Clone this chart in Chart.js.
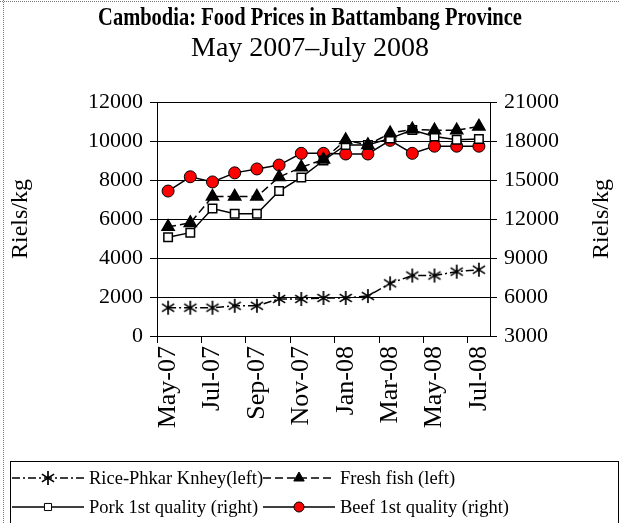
<!DOCTYPE html>
<html>
<head>
<meta charset="utf-8">
<script src="https://cdn.jsdelivr.net/npm/chart.js@4/dist/chart.umd.min.js"></script>
<style>
  html, body { margin: 0; padding: 0; background: #fff; }
  #wrap { width: 620px; height: 523px; position: relative; }
</style>
</head>
<body>
<div id="wrap"><canvas id="prices" width="620" height="523"></canvas></div>
<script>
/* Cambodia food prices, Battambang */

const months = ['May-07', 'Jun-07', 'Jul-07', 'Aug-07', 'Sep-07', 'Oct-07', 'Nov-07', 'Dec-07',
  'Jan-08', 'Feb-08', 'Mar-08', 'Apr-08', 'May-08', 'Jun-08', 'Jul-08']

// left axis
const rice = [1450, 1450, 1450, 1550, 1550, 1900, 1900, 1950, 1950, 2050, 2700, 3100, 3100, 3300, 3400]
const fish = [5600, 5800, 7150, 7150, 7150, 8150, 8650, 9050, 10050, 9800, 10400, 10600, 10550, 10550, 10750]
// right axis
const pork = [10600, 10950, 12800, 12400, 12400, 14150, 15200, 16500, 17700, 17700, 18200, 18850, 18350, 18100, 18150]
const beef = [14150, 15250, 14850, 15550, 15850, 16150, 17050, 17050, 17000, 17000, 18050, 17050, 17600, 17600, 17600]

const leftTicks = [0, 2000, 4000, 6000, 8000, 10000, 12000]
const rightTicks = [3000, 6000, 9000, 12000, 15000, 18000, 21000]

const Text = {
  TITLE: 'Cambodia: Food Prices in Battambang Province',
  SUBTITLE: 'May 2007\u2013July 2008',
  UNIT: 'Riels/kg',
  RICE: 'Rice-Phkar Knhey(left)',
  FISH: 'Fresh fish (left)',
  PORK: 'Pork 1st quality (right)',
  BEEF: 'Beef 1st quality (right)'
}

const SERIF = "'Liberation Serif', 'Times New Roman', serif"

// asterisk marker: vertical bar plus an X, like the spreadsheet star
function starMarker(size) {
  const c = document.createElement('canvas')
  c.width = size
  c.height = size
  const g = c.getContext('2d')
  const m = size / 2
  const r = size / 2 - 1
  g.strokeStyle = '#000'
  g.lineWidth = 1.7
  g.beginPath()
  g.moveTo(m, m - r); g.lineTo(m, m + r)
  g.moveTo(m - r * 0.87, m - r * 0.55); g.lineTo(m + r * 0.87, m + r * 0.55)
  g.moveTo(m - r * 0.87, m + r * 0.55); g.lineTo(m + r * 0.87, m - r * 0.55)
  g.stroke()
  return c
}
const star = starMarker(16)

const frame = {
  id: 'frame',
  afterDraw(chart) {
    const ctx = chart.ctx
    const area = chart.chartArea
    ctx.save()

    // dotted outer edge
    ctx.strokeStyle = '#777'
    ctx.lineWidth = 1
    ctx.setLineDash([1, 1])
    ctx.beginPath()
    ctx.moveTo(0, 1.5); ctx.lineTo(620, 1.5)
    ctx.moveTo(3.5, 0); ctx.lineTo(3.5, 523)
    ctx.stroke()
    ctx.setLineDash([])

    // titles: the bold one is set narrow, as in the original
    ctx.fillStyle = '#000'
    ctx.textAlign = 'center'
    ctx.textBaseline = 'middle'
    ctx.save()
    ctx.translate(310, 19)
    ctx.scale(0.82, 1)
    ctx.font = 'bold 25px ' + SERIF
    ctx.fillText(Text.TITLE, 0, 0)
    ctx.restore()
    ctx.font = '28px ' + SERIF
    ctx.fillText(Text.SUBTITLE, 310, 49)

    // right axis title, reading upwards
    ctx.font = '24px ' + SERIF
    ctx.translate(602, (area.top + area.bottom) / 2)
    ctx.rotate(-Math.PI / 2)
    ctx.fillText(Text.UNIT, 0, 0)
    ctx.restore()

    // legend box
    ctx.save()
    ctx.strokeStyle = '#000'
    ctx.lineWidth = 1
    ctx.strokeRect(10.5, 461.5, 608, 70)

    const spots = [
      { x: 12, y: 478 }, { x: 263, y: 478 },
      { x: 12, y: 507 }, { x: 263, y: 507 }
    ]
    chart.data.datasets.forEach((ds, i) => {
      const p = spots[i]
      ctx.strokeStyle = '#000'
      ctx.lineWidth = 1.5
      ctx.setLineDash(ds.borderDash || [])
      ctx.beginPath()
      ctx.moveTo(p.x, p.y); ctx.lineTo(p.x + 72, p.y)
      ctx.stroke()
      ctx.setLineDash([])
      ctx.fillStyle = ds.pointBackgroundColor
      ctx.strokeStyle = '#000'
      ctx.lineWidth = 1
      Chart.helpers.drawPoint(ctx, {
        pointStyle: ds.pointStyle,
        radius: ds.legendRadius,
        rotation: 0,
        borderWidth: 1
      }, p.x + 36, p.y)
      ctx.fillStyle = '#000'
      ctx.font = '18.5px ' + SERIF
      ctx.textAlign = 'left'
      ctx.textBaseline = 'middle'
      ctx.fillText(ds.label, p.x + 77, p.y + 1)
    })
    ctx.restore()
  }
}

const plain = (v) => String(v)

new Chart(document.getElementById('prices'), {
  type: 'line',
  plugins: [frame],
  data: {
    labels: months,
    datasets: [
      {
        label: Text.RICE,
        data: rice,
        yAxisID: 'yLeft',
        borderColor: '#000',
        borderWidth: 1.5,
        borderDash: [8, 3, 2, 3],
        pointStyle: star,
        pointBackgroundColor: '#000',
        legendRadius: 6
      },
      {
        label: Text.FISH,
        data: fish,
        yAxisID: 'yLeft',
        borderColor: '#000',
        borderWidth: 1.5,
        borderDash: [8, 4],
        pointStyle: 'triangle',
        pointRadius: 7,
        pointBackgroundColor: '#000',
        pointBorderColor: '#000',
        legendRadius: 6
      },
      {
        label: Text.PORK,
        data: pork,
        yAxisID: 'yRight',
        borderColor: '#000',
        borderWidth: 1.5,
        pointStyle: 'rect',
        pointRadius: 6,
        pointBorderWidth: 1.5,
        pointBackgroundColor: '#fff',
        pointBorderColor: '#000',
        legendRadius: 5
      },
      {
        label: Text.BEEF,
        data: beef,
        yAxisID: 'yRight',
        borderColor: '#000',
        borderWidth: 1.5,
        pointStyle: 'circle',
        pointRadius: 6,
        pointBorderWidth: 1,
        pointBackgroundColor: '#ff0000',
        pointBorderColor: '#000',
        legendRadius: 5
      }
    ]
  },
  options: {
    responsive: false,
    animation: false,
    layout: { padding: { left: 0, right: 0, top: 102, bottom: 67 } },
    plugins: {
      legend: { display: false },
      tooltip: { enabled: false }
    },
    scales: {
      x: {
        offset: true,
        grid: {
          offset: true,
          drawOnChartArea: false,
          tickLength: 7,
          color: '#000',
          tickColor: (c) => (c.index % 2 === 0 ? '#000' : 'rgba(0,0,0,0)')
        },
        border: { color: '#000', width: 1 },
        ticks: {
          autoSkip: false,
          minRotation: 90,
          maxRotation: 90,
          padding: 3,
          color: '#000',
          font: { family: SERIF, size: 26 },
          callback: (v, i) => (i % 2 === 0 ? months[i] : '')
        },
        afterFit: (s) => { s.height = 120 }
      },
      yLeft: {
        position: 'left',
        min: leftTicks[0],
        max: leftTicks[leftTicks.length - 1],
        afterBuildTicks: (s) => { s.ticks = leftTicks.map(v => ({ value: v })) },
        grid: { color: '#000', lineWidth: 1, tickLength: 7 },
        border: { color: '#000', width: 1 },
        ticks: {
          padding: 7,
          color: '#000',
          font: { family: SERIF, size: 22 },
          callback: plain
        },
        title: {
          display: true,
          text: Text.UNIT,
          color: '#000',
          font: { family: SERIF, size: 24 },
          padding: { top: 6 }
        },
        afterFit: (s) => { s.width = 157 }
      },
      yRight: {
        position: 'right',
        min: rightTicks[0],
        max: rightTicks[rightTicks.length - 1],
        afterBuildTicks: (s) => { s.ticks = rightTicks.map(v => ({ value: v })) },
        grid: { drawOnChartArea: false, color: '#000', tickLength: 7 },
        border: { color: '#000', width: 1 },
        ticks: {
          padding: 7,
          color: '#000',
          font: { family: SERIF, size: 22 },
          callback: plain
        },
        afterFit: (s) => { s.width = 130 }
      }
    }
  }
})
</script>
</body>
</html>
